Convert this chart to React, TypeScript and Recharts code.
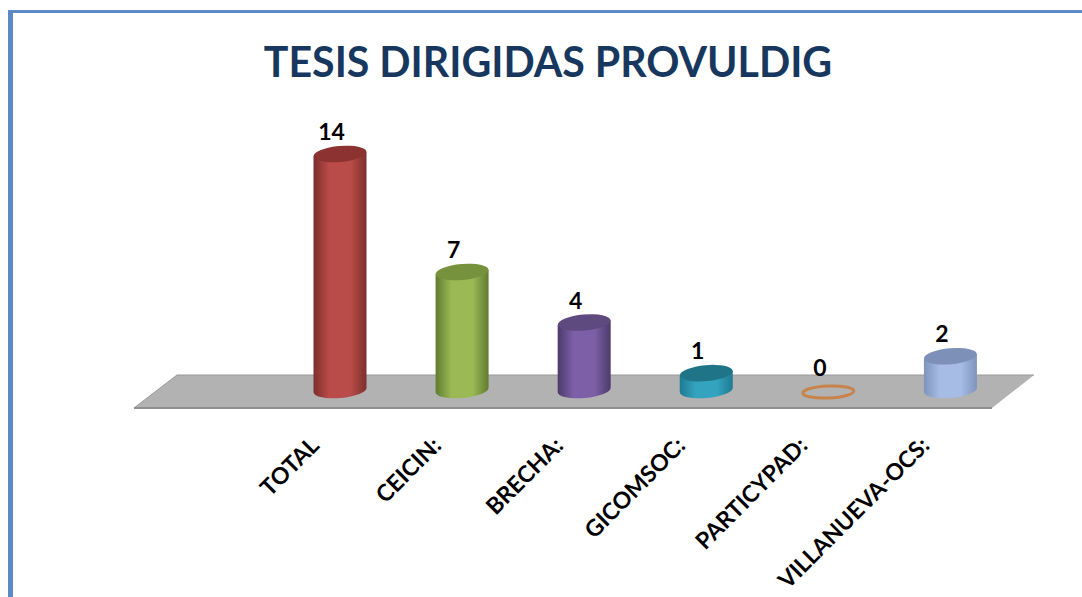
import React from 'react';
import { BarChart, Bar, XAxis, YAxis, LabelList } from 'recharts';

// datos
const categorias = ['TOTAL', 'CEICIN:', 'BRECHA:', 'GICOMSOC:', 'PARTICYPAD:', 'VILLANUEVA-OCS:'];
const tesis = [14, 7, 4, 1, 0, 2];

// colores de cada cilindro: borde, centro, tapa
const bordes = ['#7d2f2d', '#5f7c30', '#4c3a6c', '#1f7a92', '#c8834b', '#7f94bb'];
const centros = ['#b94c49', '#9bb955', '#7c5fa6', '#34a3bf', '#c8834b', '#a6bce4'];
const tapas = ['#8c3230', '#76923c', '#5f4a80', '#1f7488', '#c8834b', '#7c90b8'];

const data = categorias.map((nombre, i) => ({ nombre, tesis: tesis[i] }));

const INCLINACION = 5;

const Cilindro = (props: any) => {
  const { x, y, width, height, index } = props;
  const cx = x + width / 2;
  const r = width / 2;
  const ry = 8;
  const bottom = y + height;
  const d = r * Math.sin((INCLINACION * Math.PI) / 180);

  // valor cero: solo el anillo sobre el piso
  if (height <= 0) {
    return (
      <ellipse
        cx={cx}
        cy={bottom + 2}
        rx={r - 1}
        ry={6}
        fill="none"
        stroke={bordes[index]}
        strokeWidth={3}
        transform={`rotate(${-INCLINACION / 2} ${cx} ${bottom + 2})`}
      />
    );
  }

  const cuerpo = `M ${cx - r} ${y + d} L ${cx - r} ${bottom + d} A ${r} ${ry} ${-INCLINACION} 0 0 ${cx + r} ${bottom - d} L ${cx + r} ${y - d} Z`;

  return (
    <g>
      <path d={cuerpo} fill={`url(#cil-${index})`} />
      <ellipse
        cx={cx}
        cy={y}
        rx={r}
        ry={ry}
        fill={tapas[index]}
        transform={`rotate(${-INCLINACION} ${cx} ${y})`}
      />
    </g>
  );
};

const TickRotado = (props: any) => {
  const { x, y, payload } = props;
  return (
    <text
      x={x - 19}
      y={y + 49}
      textAnchor="end"
      fontFamily="Lato"
      fontWeight={700}
      fontSize={23}
      fill="#000"
      transform={`rotate(-45 ${x - 19} ${y + 49})`}
    >
      {payload.value}
    </text>
  );
};

const Etiqueta = (props: any) => {
  const { x, y, width, value } = props;
  return (
    <text
      x={x + width / 2 - 8.5}
      y={y - 14}
      textAnchor="middle"
      fontFamily="Lato"
      fontWeight={700}
      fontSize={23}
      fill="#000"
    >
      {value}
    </text>
  );
};

export default function App() {
  return (
    <div style={{ position: 'absolute', left: 0, top: 0, width: 1082, height: 597, overflow: 'hidden', background: '#fff' }}>
      {/* marco azul */}
      <div style={{ position: 'absolute', left: 8, top: 10, width: 1074, height: 3, background: '#5b8ac5' }} />
      <div style={{ position: 'absolute', left: 8, top: 10, width: 5, height: 587, background: '#5b8ac5' }} />

      <div
        style={{
          position: 'absolute',
          left: 0,
          top: 32,
          width: 1096,
          textAlign: 'center',
          fontFamily: 'Lato',
          fontWeight: 700,
          fontSize: 41.1,
          lineHeight: '58px',
          color: '#17375e',
        }}
      >
        TESIS DIRIGIDAS PROVULDIG
      </div>

      <div style={{ position: 'absolute', left: 0, top: 0 }}>
        <BarChart
          width={1082}
          height={597}
          data={data}
          margin={{ top: 154, right: 71, bottom: 177, left: 278.5 }}
        >
          <defs>
            {categorias.map((_, i) => (
              <linearGradient key={i} id={`cil-${i}`} x1="0" y1="0" x2="1" y2="0">
                <stop offset="0%" stopColor={bordes[i]} />
                <stop offset="30%" stopColor={centros[i]} />
                <stop offset="70%" stopColor={centros[i]} />
                <stop offset="100%" stopColor={bordes[i]} />
              </linearGradient>
            ))}
          </defs>
          {/* piso gris */}
          <polygon points="134,408 177,375 1034,375 992,408" fill="#b2b2b2" />
          <polyline points="134,408 177,375 1034,375" fill="none" stroke="#999" strokeWidth={1} />
          <line x1={134} y1={408} x2={992} y2={408} stroke="#8f8f8f" strokeWidth={2} />
          <XAxis
            dataKey="nombre"
            axisLine={false}
            tickLine={false}
            interval={0}
            tick={<TickRotado />}
          />
          <YAxis hide domain={[0, 14]} />
          <Bar dataKey="tesis" barSize={53} isAnimationActive={false} shape={<Cilindro />}>
            <LabelList dataKey="tesis" content={<Etiqueta />} />
          </Bar>
        </BarChart>
      </div>
    </div>
  );
}
